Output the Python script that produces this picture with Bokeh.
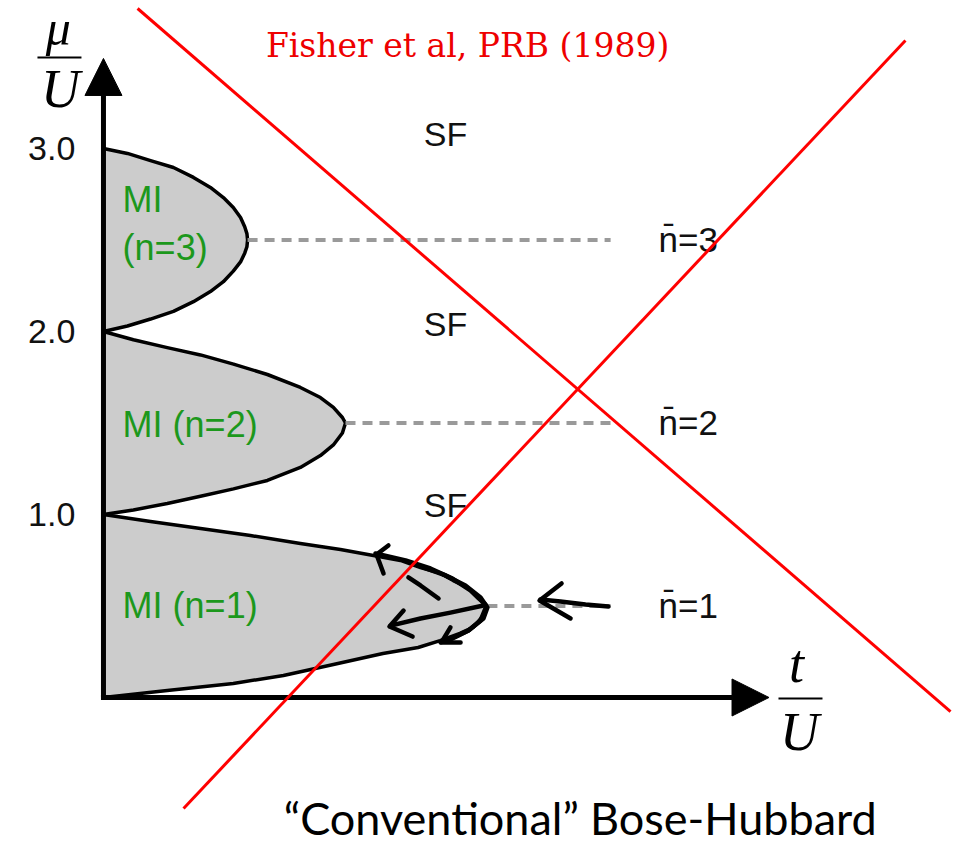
from bokeh.plotting import figure
from bokeh.models import Range1d, Arrow, NormalHead
from bokeh.core.properties import value
from bokeh.embed import file_html
from bokeh.resources import INLINE

# ---- Mott-insulator lobes (t/U, mu/U), upper vertex -> tip -> lower vertex ----
LOBE1_T = [0, 0.0214, 0.0441, 0.0668, 0.0895, 0.1077, 0.1227, 0.135, 0.1441, 0.1532,
           0.159, 0.1655, 0.170, 0.1745, 0.1727, 0.168, 0.162, 0.153, 0.143, 0.127,
           0.1045, 0.0818, 0.059, 0.029, 0]
LOBE1_MU = [1.0, 0.962, 0.923, 0.885, 0.842, 0.809, 0.776, 0.749, 0.710, 0.678,
            0.639, 0.601, 0.546, 0.50, 0.448, 0.383, 0.350, 0.311, 0.273, 0.240,
            0.180, 0.120, 0.077, 0.038, 0]

LOBE2_T = [0, 0.0136, 0.029, 0.0441, 0.0591, 0.0745, 0.0895, 0.0986, 0.1045, 0.1086,
           0.110, 0.1086, 0.1045, 0.0986, 0.0895, 0.0745, 0.0591, 0.0441, 0.029,
           0.0136, 0]
LOBE2_MU = [2.0, 1.955, 1.912, 1.872, 1.822, 1.765, 1.694, 1.639, 1.585, 1.530,
            1.50, 1.445, 1.380, 1.322, 1.257, 1.186, 1.140, 1.100, 1.060,
            1.025, 1.0]

LOBE3_T = [0, 0.0109, 0.0214, 0.0318, 0.0409, 0.0486, 0.0545, 0.059, 0.0623, 0.0642,
           0.0652, 0.0655, 0.0652, 0.0642, 0.0623, 0.059, 0.0545, 0.0486, 0.0409,
           0.0318, 0.0214, 0.0109, 0]
LOBE3_MU = [3.0, 2.973, 2.934, 2.896, 2.842, 2.787, 2.732, 2.678, 2.623, 2.572,
            2.535, 2.5, 2.463, 2.428, 2.380, 2.330, 2.272, 2.218, 2.163,
            2.110, 2.068, 2.030, 2.0]

LOBE_LABELS = ["MI (n=1)", "MI (n=2)", "MI\n(n=3)"]
LOBE_LABEL_MU = [0.50, 1.49, 2.59]

# integer-filling levels and their labels
FILLING_MU = [0.5, 1.5, 2.5]
FILLING_LABELS = ["n\u0304=1", "n\u0304=2", "n\u0304=3"]
DASH_END_T = 0.2305

# superfluid labels
SF_MU = [1.05, 2.04, 3.08]

# y-axis ticks
TICK_MU = [1.0, 2.0, 3.0]
TICK_LABELS = ["1.0", "2.0", "3.0"]

# axis extents
T_AXIS_END = 0.3025
MU_AXIS_END = 3.492

# the two crossing red strokes
CROSS_A_T = [0.0155, 0.385]
CROSS_A_MU = [3.765, -0.077]
CROSS_B_T = [0.0364, 0.3645]
CROSS_B_MU = [-0.607, 3.590]

# hand-drawn arrows around the n=1 lobe tip
STROKES_T = [
    [0.2295, 0.2191, 0.2077, 0.1986],
    [0.2082, 0.1982, 0.2123],
    [0.1736, 0.1668, 0.1586, 0.1486, 0.1373, 0.1236],
    [0.1295, 0.1241, 0.1273],
    [0.1523, 0.1441, 0.1386],
    [0.1727, 0.1577, 0.1441, 0.1305],
    [0.1364, 0.1300, 0.1405],
    [0.1736, 0.1714, 0.1659, 0.1586, 0.1532],
    [0.1577, 0.1536, 0.1623],
    [0.1441, 0.1555, 0.1645, 0.1714, 0.1745, 0.1727, 0.1659, 0.1600],
]
STROKES_MU = [
    [0.497, 0.508, 0.525, 0.536],
    [0.623, 0.530, 0.432],
    [0.508, 0.585, 0.650, 0.705, 0.749, 0.787],
    [0.831, 0.781, 0.678],
    [0.541, 0.612, 0.656],
    [0.503, 0.464, 0.432, 0.393],
    [0.475, 0.388, 0.333],
    [0.486, 0.421, 0.366, 0.322, 0.301],
    [0.383, 0.301, 0.301],
    [0.716, 0.667, 0.612, 0.546, 0.492, 0.432, 0.366, 0.333],
]

SANS = value("Liberation Sans")
SERIF_IT = value("Liberation Serif")

p = figure(width=954, height=847,
           x_range=Range1d(-0.0468, 0.3868), y_range=Range1d(-0.8197, 3.8087),
           x_axis_type=None, y_axis_type=None,
           output_backend="svg", toolbar_location=None, min_border=0)
p.outline_line_color = None
p.background_fill_color = "white"
p.border_fill_color = "white"

# lobes
p.patches([LOBE1_T, LOBE2_T, LOBE3_T], [LOBE1_MU, LOBE2_MU, LOBE3_MU],
          fill_color="#cccccc", line_color="black", line_width=3.5, line_join="round")

# dashed lines from each lobe tip
tips = [max(LOBE1_T), max(LOBE2_T), max(LOBE3_T)]
p.multi_line([[t, DASH_END_T] for t in tips], [[m, m] for m in FILLING_MU],
             line_color="#9a9a9a", line_width=4, line_dash="10 7")

# hand-drawn arrows
p.multi_line(STROKES_T, STROKES_MU, line_color="black", line_width=4.5,
             line_cap="round", line_join="round")

# axes as arrows
p.add_layout(Arrow(end=NormalHead(size=37, fill_color="black", line_color="black", line_width=1),
                   x_start=0, y_start=0, x_end=0, y_end=MU_AXIS_END,
                   line_color="black", line_width=5))
p.add_layout(Arrow(end=NormalHead(size=37, fill_color="black", line_color="black", line_width=1),
                   x_start=-0.00114, y_start=0, x_end=T_AXIS_END, y_end=0,
                   line_color="black", line_width=5))

# tick labels
p.text([-0.0128] * 3, TICK_MU, text=TICK_LABELS, text_font=SANS, text_font_size="34px",
       text_align="right", text_baseline="middle", text_color="#111111")

# axis titles: mu/U and t/U
p.text([-0.0205], [3.66], text=["\u03bc"], text_font=SERIF_IT, text_font_style="italic",
       text_font_size="50px", text_align="center", text_baseline="middle", text_color="black")
p.segment([-0.0300], [3.497], [-0.0100], [3.497], line_color="black", line_width=2)
p.text([-0.0195], [3.325], text=["U"], text_font=SERIF_IT, text_font_style="italic",
       text_font_size="54px", text_align="center", text_baseline="middle", text_color="black")

p.text([0.3150], [0.185], text=["t"], text_font=SERIF_IT, text_font_style="italic",
       text_font_size="54px", text_align="center", text_baseline="middle", text_color="black")
p.segment([0.3068], [-0.005], [0.3268], [-0.005], line_color="black", line_width=2)
p.text([0.3164], [-0.19], text=["U"], text_font=SERIF_IT, text_font_style="italic",
       text_font_size="54px", text_align="center", text_baseline="middle", text_color="black")

# region labels
p.text([0.0087] * 3, LOBE_LABEL_MU, text=LOBE_LABELS, text_font=SANS, text_font_size="36px",
       text_align="left", text_baseline="middle", text_color="#1c981c",
       text_line_height=1.15)
p.text([0.1555] * 3, SF_MU, text=["SF"] * 3, text_font=SANS, text_font_size="34px",
       text_align="center", text_baseline="middle", text_color="#111111")
p.text([0.2523] * 3, FILLING_MU, text=FILLING_LABELS, text_font=SANS, text_font_size="35px",
       text_align="left", text_baseline="middle", text_color="#111111")

# citation and caption
p.text([0.1655], [3.565], text=["Fisher et al, PRB (1989)"], text_font=value("DejaVu Serif"),
       text_font_size="33px", text_align="center", text_baseline="middle", text_color="#ee0000")
p.text([0.2168], [-0.66], text=["\u201cConventional\u201d Bose-Hubbard"], text_font=value("Lato"),
       text_font_size="45px", text_align="center", text_baseline="middle", text_color="black")

# red crossing strokes on top
p.line(CROSS_A_T, CROSS_A_MU, line_color="#ff0000", line_width=3, level="overlay")
p.line(CROSS_B_T, CROSS_B_MU, line_color="#ff0000", line_width=3, level="overlay")

open("out.html", "w").write(file_html(p, INLINE))
